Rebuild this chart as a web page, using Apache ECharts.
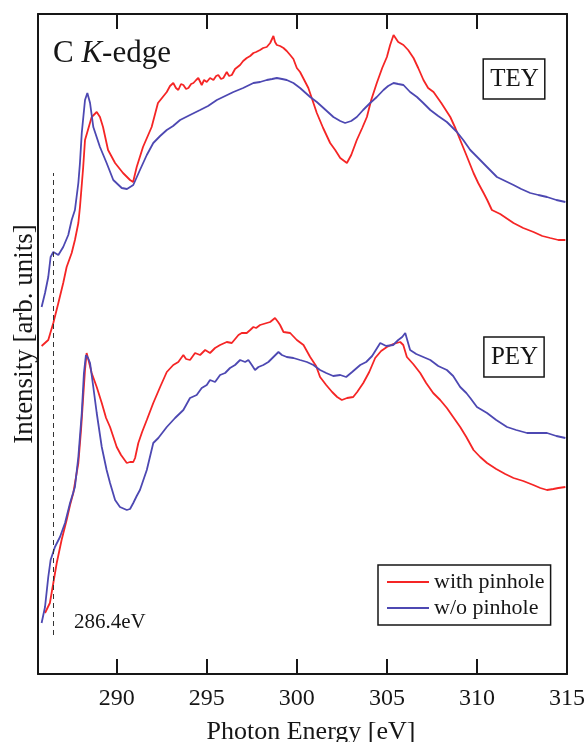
<!DOCTYPE html>
<html>
<head>
<meta charset="utf-8">
<title>C K-edge</title>
<script src="https://cdn.jsdelivr.net/npm/echarts@6/dist/echarts.min.js"></script>
<style>
  html, body { margin: 0; padding: 0; background: #fff; }
  #chart { width: 585px; height: 742px; }
</style>
</head>
<body>
<div id="chart"></div>
<script>
// x ticks (eV)
const xTicks = [290, 295, 300, 305, 310, 315];
const edgeEnergy = 286.5; // dashed marker, labelled 286.4eV

// [photon energy eV, intensity arb. units] - TEY, with pinhole
const teyWith = [
  [285.83, 328], [286.20, 334], [286.48, 351], [286.76, 371], [287.03, 391], [287.22, 407],
  [287.50, 421], [287.68, 434], [287.87, 451], [287.96, 467], [288.14, 507], [288.24, 534],
  [288.37, 542], [288.61, 557], [288.89, 562], [289.07, 557], [289.24, 547], [289.52, 524],
  [289.91, 511], [290.35, 501], [290.74, 494], [290.91, 492], [291.11, 507], [291.46, 527],
  [291.94, 547], [292.29, 571], [292.78, 582], [292.96, 588], [293.14, 591], [293.29, 586],
  [293.42, 584], [293.57, 590], [293.70, 589], [293.85, 585], [293.98, 586], [294.13, 590],
  [294.26, 591], [294.41, 594], [294.53, 596], [294.72, 589], [294.85, 594], [295.00, 592],
  [295.18, 596], [295.37, 594], [295.52, 598], [295.64, 599], [295.79, 595], [295.92, 596],
  [296.11, 602], [296.24, 598], [296.39, 599], [296.57, 605], [296.85, 609], [297.02, 613],
  [297.22, 616], [297.41, 618], [297.59, 621], [297.74, 622], [297.96, 624], [298.13, 626],
  [298.33, 627], [298.52, 631], [298.63, 633], [298.70, 638], [298.79, 632], [298.89, 629],
  [299.07, 628], [299.26, 626], [299.44, 623], [299.63, 619], [299.81, 615], [300.00, 606],
  [300.18, 602], [300.64, 586], [301.11, 561], [301.46, 546], [301.85, 531], [302.13, 524],
  [302.41, 516], [302.78, 511], [303.02, 519], [303.33, 534], [303.63, 546], [303.89, 557],
  [304.13, 574], [304.44, 591], [304.74, 606], [305.00, 617], [305.18, 629], [305.37, 639],
  [305.63, 632], [305.92, 629], [306.18, 624], [306.48, 616], [306.74, 606], [307.03, 594],
  [307.29, 586], [307.59, 582], [308.02, 571], [308.52, 557], [308.80, 546], [309.07, 534],
  [309.41, 519], [309.81, 501], [310.07, 491], [310.37, 481], [310.57, 474], [310.83, 464],
  [311.29, 460], [312.03, 451], [312.57, 446], [313.14, 442], [313.63, 438], [314.07, 436],
  [314.52, 434], [314.91, 434]
];

// TEY, w/o pinhole
const teyWithout = [
  [285.83, 367], [286.02, 381], [286.20, 397], [286.33, 417], [286.48, 422], [286.76, 419],
  [287.03, 427], [287.31, 439], [287.50, 454], [287.68, 464], [287.87, 491], [287.96, 511],
  [288.06, 541], [288.24, 574], [288.37, 581], [288.52, 571], [288.70, 547], [289.07, 527],
  [289.44, 511], [289.81, 494], [290.28, 486], [290.57, 485], [290.92, 489], [291.02, 491],
  [291.29, 504], [291.67, 519], [292.03, 531], [292.41, 538], [292.78, 544], [293.13, 548],
  [293.52, 554], [294.07, 559], [294.63, 564], [295.07, 568], [295.56, 574], [296.02, 578],
  [296.48, 582], [297.02, 586], [297.59, 591], [297.96, 592], [298.33, 594], [298.63, 595],
  [298.89, 596], [299.18, 595], [299.44, 594], [299.81, 591], [300.18, 586], [300.74, 577],
  [301.11, 572], [301.48, 566], [302.03, 557], [302.41, 553], [302.68, 551], [303.02, 553],
  [303.33, 557], [303.68, 564], [304.07, 571], [304.44, 577], [304.81, 584], [305.07, 588],
  [305.37, 591], [305.63, 590], [305.92, 589], [306.29, 582], [306.67, 577], [307.02, 571],
  [307.41, 564], [307.85, 558], [308.33, 552], [308.89, 542], [309.24, 534], [309.63, 524],
  [310.07, 516], [310.56, 507], [311.11, 497], [311.57, 493], [312.03, 489], [312.46, 485],
  [312.96, 481], [313.41, 479], [313.89, 477], [314.41, 474], [314.91, 472]
];

// PEY, with pinhole
const peyWith = [
  [286.02, 61], [286.29, 71], [286.48, 91], [286.67, 111], [286.94, 134], [287.22, 154],
  [287.41, 169], [287.59, 181], [287.87, 211], [288.02, 244], [288.14, 277], [288.24, 304],
  [288.33, 321], [288.46, 312], [288.61, 301], [288.89, 287], [289.17, 271], [289.41, 256],
  [289.63, 247], [290.00, 227], [290.24, 219], [290.56, 211], [290.74, 212], [290.92, 212],
  [291.02, 216], [291.20, 231], [291.41, 242], [291.67, 254], [292.03, 271], [292.41, 287],
  [292.78, 302], [293.14, 309], [293.42, 312], [293.70, 319], [293.85, 315], [294.07, 314],
  [294.35, 321], [294.63, 319], [294.91, 324], [295.18, 321], [295.46, 326], [295.74, 329],
  [296.11, 332], [296.39, 331], [296.76, 339], [296.94, 341], [297.22, 341], [297.41, 344],
  [297.59, 347], [297.74, 346], [297.96, 349], [298.33, 351], [298.52, 352], [298.79, 356],
  [298.96, 352], [299.07, 349], [299.26, 342], [299.63, 341], [300.00, 334], [300.37, 329],
  [300.74, 317], [301.07, 308], [301.29, 297], [301.63, 289], [301.96, 282], [302.24, 277],
  [302.50, 274], [302.79, 276], [303.13, 277], [303.35, 282], [303.69, 291], [304.02, 302],
  [304.35, 316], [304.68, 323], [305.00, 327], [305.35, 330], [305.74, 332], [305.91, 329],
  [306.11, 317], [306.46, 310], [306.85, 301], [307.18, 291], [307.57, 281], [307.96, 274],
  [308.33, 266], [308.68, 257], [309.07, 247], [309.41, 237], [309.81, 224], [310.18, 217],
  [310.56, 211], [311.07, 205], [311.57, 200], [312.03, 196], [312.57, 193], [313.13, 189],
  [313.52, 186], [313.89, 184], [314.24, 185], [314.52, 186], [314.91, 187]
];

// PEY, w/o pinhole
const peyWithout = [
  [285.83, 51], [286.02, 67], [286.20, 97], [286.33, 114], [286.57, 127], [286.85, 137],
  [287.13, 151], [287.41, 171], [287.68, 187], [287.87, 217], [288.06, 261], [288.18, 301],
  [288.29, 319], [288.41, 316], [288.52, 311], [288.70, 287], [288.89, 261], [289.17, 227],
  [289.44, 204], [289.63, 191], [289.91, 174], [290.18, 167], [290.56, 164], [290.74, 165],
  [290.92, 171], [291.11, 178], [291.29, 184], [291.67, 204], [292.03, 231], [292.31, 236],
  [292.78, 247], [293.24, 256], [293.70, 264], [294.07, 276], [294.44, 279], [294.72, 286],
  [295.00, 289], [295.18, 294], [295.46, 292], [295.74, 299], [296.02, 301], [296.29, 306],
  [296.57, 309], [296.85, 314], [297.13, 312], [297.31, 314], [297.50, 309], [297.68, 304],
  [297.87, 307], [298.14, 309], [298.42, 312], [298.70, 317], [298.98, 322], [299.17, 319],
  [299.44, 317], [299.81, 316], [300.18, 314], [300.56, 312], [300.92, 309], [301.29, 304],
  [301.63, 301], [302.02, 298], [302.41, 299], [302.74, 297], [303.07, 302], [303.52, 309],
  [303.85, 312], [304.18, 318], [304.63, 331], [304.96, 328], [305.35, 329], [305.63, 334],
  [305.85, 337], [306.02, 341], [306.13, 334], [306.29, 324], [306.63, 320], [307.02, 317],
  [307.41, 314], [307.85, 308], [308.33, 304], [308.68, 298], [309.07, 287], [309.41, 281],
  [309.63, 276], [310.00, 267], [310.56, 261], [311.07, 254], [311.67, 247], [312.18, 244],
  [312.78, 241], [313.29, 241], [313.89, 241], [314.41, 238], [314.91, 236]
];

const RED = '#f52525';
const BLUE = '#4d48b2';
const FONT = 'Liberation Serif';
const INK = '#161616';

function lineSeries(name, color, data) {
  return {
    name: name,
    type: 'line',
    data: data,
    symbol: 'none',
    smooth: false,
    animation: false,
    itemStyle: { color: color },
    lineStyle: { color: color, width: 1.8 }
  };
}

const chart = echarts.init(document.getElementById('chart'));

const peyWithSeries = lineSeries('with pinhole', RED, peyWith);
peyWithSeries.markLine = {
  silent: true,
  symbol: 'none',
  label: { show: false },
  lineStyle: { color: '#333', type: [5, 4], width: 1 },
  data: [[{ coord: [edgeEnergy, 39] }, { coord: [edgeEnergy, 501] }]]
};

const legendIcon = 'path://M0,0 L42,0 L42,2 L0,2 Z';

chart.setOption({
  animation: false,
  textStyle: { fontFamily: FONT },
  grid: { left: 38, right: 18, top: 14, bottom: 68, outerBoundsMode: 'none' },
  legend: {
    data: [
      { name: 'with pinhole', icon: legendIcon },
      { name: 'w/o pinhole', icon: legendIcon }
    ],
    orient: 'vertical',
    left: 378,
    top: 565,
    itemWidth: 42,
    itemHeight: 14,
    itemGap: 4,
    padding: [6, 6, 6, 9],
    borderColor: INK,
    borderWidth: 1.5,
    textStyle: { fontFamily: FONT, fontSize: 22, color: INK, lineHeight: 22 }
  },
  xAxis: [
    {
      type: 'value',
      min: 285.63,
      max: 315,
      position: 'bottom',
      axisLine: { show: true, onZero: false, lineStyle: { color: INK, width: 2 } },
      axisTick: { show: true, inside: true, length: 15, customValues: xTicks, lineStyle: { color: INK, width: 2 } },
      axisLabel: { customValues: xTicks, fontFamily: FONT, fontSize: 24, color: INK, margin: 13 },
      splitLine: { show: false },
      name: 'Photon Energy [eV]',
      nameLocation: 'middle',
      nameGap: 45,
      nameTextStyle: { fontFamily: FONT, fontSize: 26, color: INK, padding: [0, 0, 0, 17] }
    },
    {
      type: 'value',
      min: 285.63,
      max: 315,
      position: 'top',
      axisLine: { show: true, onZero: false, lineStyle: { color: INK, width: 2 } },
      axisTick: { show: true, inside: true, length: 15, customValues: xTicks, lineStyle: { color: INK, width: 2 } },
      axisLabel: { show: false },
      splitLine: { show: false }
    }
  ],
  yAxis: [
    {
      type: 'value',
      min: 0,
      max: 660,
      position: 'left',
      axisLine: { show: true, onZero: false, lineStyle: { color: INK, width: 2 } },
      axisTick: { show: false },
      axisLabel: { show: false },
      splitLine: { show: false }
    },
    {
      type: 'value',
      min: 0,
      max: 660,
      position: 'right',
      axisLine: { show: true, onZero: false, lineStyle: { color: INK, width: 2 } },
      axisTick: { show: false },
      axisLabel: { show: false },
      splitLine: { show: false }
    }
  ],
  graphic: [
    {
      type: 'text',
      x: 25,
      y: 334,
      rotation: Math.PI / 2,
      style: {
        text: 'Intensity [arb. units]',
        fontFamily: FONT,
        fontSize: 27,
        fill: INK,
        align: 'center',
        verticalAlign: 'middle'
      }
    },
    {
      type: 'text',
      left: 53,
      top: 38,
      style: {
        text: '{n|C }{i|K}{n|-edge}',
        rich: {
          n: { fontFamily: FONT, fontSize: 31, fill: INK },
          i: { fontFamily: FONT, fontSize: 31, fontStyle: 'italic', fill: INK }
        }
      }
    },
    {
      type: 'text',
      x: 514,
      y: 79,
      style: {
        text: 'TEY',
        fontFamily: FONT,
        fontSize: 25,
        fill: INK,
        align: 'center',
        verticalAlign: 'middle',
        borderColor: INK,
        borderWidth: 1.5,
        padding: [8, 6, 7, 7]
      }
    },
    {
      type: 'text',
      x: 514,
      y: 357,
      style: {
        text: 'PEY',
        fontFamily: FONT,
        fontSize: 25,
        fill: INK,
        align: 'center',
        verticalAlign: 'middle',
        borderColor: INK,
        borderWidth: 1.5,
        padding: [8, 6, 7, 7]
      }
    },
    {
      type: 'text',
      left: 74,
      top: 612,
      style: { text: '286.4eV', fontFamily: FONT, fontSize: 21, fill: INK }
    }
  ],
  series: [
    lineSeries('with pinhole', RED, teyWith),
    lineSeries('w/o pinhole', BLUE, teyWithout),
    peyWithSeries,
    lineSeries('w/o pinhole', BLUE, peyWithout)
  ]
});
</script>
</body>
</html>
